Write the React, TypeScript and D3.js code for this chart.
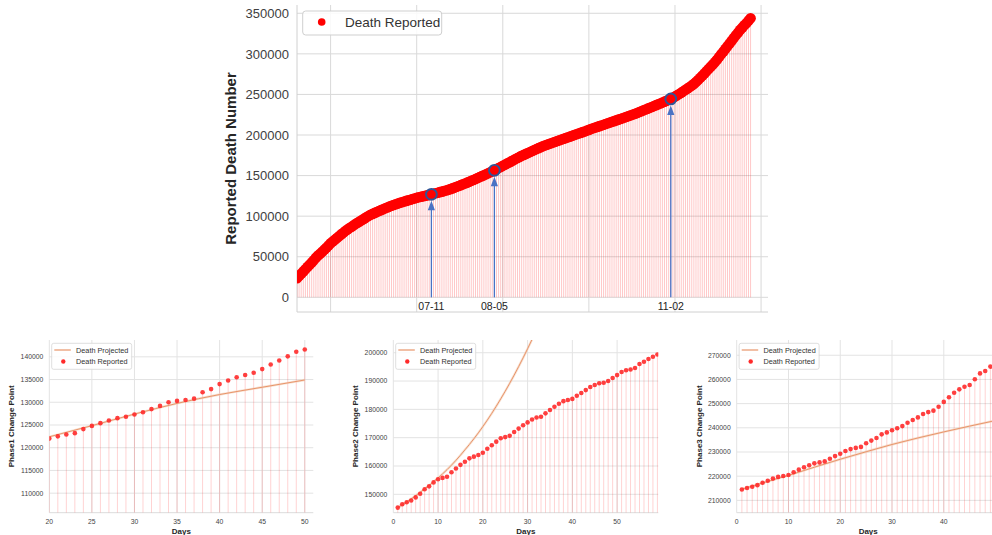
import React from "react";
import * as d3 from "d3";

const FONT = '"Liberation Sans", Arial, sans-serif';

// ---- top chart: cumulative reported deaths, one value per day ----
const deathReported = [
  23400, 26300, 29000, 31900, 34600, 37500, 40100, 43000, 45700, 48900,
  51400, 53600, 56200, 58700, 61100, 63800, 66500, 68700, 71000, 73000,
  75200, 77500, 79400, 81600, 83500, 85400, 87000, 88800, 90500, 92100,
  93700, 95400, 96900, 98600, 100200, 101600, 102800, 104000, 105000, 106300,
  107400, 108600, 109800, 110700, 111800, 112900, 113800, 114600, 115500, 116400,
  117100, 118000, 118800, 119500, 120300, 121100, 121800, 122600, 123300, 123900,
  124400, 125000, 125600, 126300, 126900, 127600, 128200, 128900, 129600, 130200,
  130900, 131600, 132400, 133300, 134200, 135200, 136100, 137200, 138200, 139300,
  140200, 141300, 142400, 143500, 144600, 145800, 146900, 148100, 149300, 150500,
  151700, 152900, 154100, 155300, 156500, 157900, 159300, 160600, 162000, 163400,
  164800, 166200, 167500, 168900, 170300, 171600, 173000, 174300, 175500, 176700,
  177900, 179100, 180200, 181400, 182600, 183800, 184900, 186000, 187000, 188000,
  189000, 189900, 190800, 191700, 192600, 193500, 194400, 195300, 196200, 197100,
  198000, 199000, 199900, 200800, 201700, 202600, 203500, 204400, 205400, 206300,
  207400, 208300, 209100, 210000, 210900, 211800, 212700, 213600, 214400, 215300,
  216200, 217100, 218000, 218900, 219800, 220700, 221600, 222500, 223400, 224300,
  225300, 226200, 227200, 228300, 229300, 230400, 231400, 232500, 233500, 234600,
  235700, 236800, 237800, 238900, 240000, 241100, 242100, 243300, 244400, 245900,
  247400, 249000, 250600, 252200, 254000, 255700, 257400, 259200, 261000, 263000,
  265200, 267800, 270400, 273100, 275800, 278600, 281300, 284100, 286900, 289800,
  292700, 296000, 299400, 302700, 306100, 309400, 312800, 316100, 319400, 322800,
  326100, 329500, 332300, 335200, 337800, 340900, 343800,
];
const changeIdx = [64, 94, 178];
const changeLabels = ["07-11", "08-05", "11-02"];
const topYTicks = [0, 50000, 100000, 150000, 200000, 250000, 300000, 350000];
const topGridIdx = [16, 57, 98, 139, 180, 221];

// ---- phase 1 ----
const p1Days = d3.range(20, 51);
const p1Reported = [
  122000, 122500, 122900, 123200, 124100, 124800, 125400, 126000, 126500, 126800,
  127300, 127800, 128500, 129200, 130000, 130300, 130500, 130800, 132200, 132900,
  134000, 134800, 135500, 136000, 136500, 137300, 138300, 139200, 140100, 141100,
  141600,
];
const p1ProjDays = [20, 25, 30, 35, 40, 45, 50];
const p1Projected = [122400, 124850, 127400, 129750, 131700, 133300, 134900];
const p1XTicks = [20, 25, 30, 35, 40, 45, 50];
const p1YTicks = [110000, 115000, 120000, 125000, 130000, 135000, 140000];

// ---- phase 2 ----
const p2Days = d3.range(1, 60);
const p2Reported = [
  145300, 146500, 147200, 147800, 148900, 150200, 151800, 152800, 154200, 155300,
  155800, 156200, 157800, 159100, 160400, 161500, 162700, 163300, 163900, 164700,
  166100, 167300, 168600, 169800, 170200, 170700, 172000, 173200, 174400, 175400,
  176400, 177100, 177400, 178600, 179800, 180900, 182000, 182900, 183300, 183700,
  184800, 185800, 186800, 187900, 188600, 189200, 189400, 190000, 191100, 192100,
  193200, 193800, 194100, 194600, 196000, 196800, 197800, 198600, 199400,
];
const p2ProjDays = d3.range(1, 33);
const p2Projected = [
  145300, 146300, 147300, 148400, 149500, 150700, 151900, 153100, 154400, 155800,
  157200, 158700, 160300, 162000, 163800, 165700, 167600, 169600, 171700, 173900,
  176200, 178600, 181100, 183700, 186400, 189200, 192100, 195100, 198200, 201400,
  204700, 208100,
];
const p2XTicks = [0, 10, 20, 30, 40, 50];
const p2YTicks = [150000, 160000, 170000, 180000, 190000, 200000];

// ---- phase 3 ----
const p3Days = d3.range(1, 50);
const p3Reported = [
  214500, 215100, 215600, 216300, 217300, 218100, 219000, 219700, 220100, 220500,
  221600, 222700, 223700, 224500, 225300, 225700, 226100, 227200, 228300, 229300,
  230400, 231200, 231700, 232100, 233600, 234700, 235800, 237300, 238100, 239000,
  239800, 240700, 242100, 243200, 244300, 245700, 246500, 247100, 248700, 250700,
  252600, 254500, 255900, 257000, 257700, 260100, 262500, 263500, 265300,
];
const p3ProjDays = [1, 5, 10, 15, 20, 25, 30, 35, 40, 45, 50];
const p3Projected = [214600, 217200, 220300, 223700, 227000, 230100, 233100, 235800, 238300, 240700, 243000];
const p3XTicks = [0, 10, 20, 30, 40];
const p3YTicks = [210000, 220000, 230000, 240000, 250000, 260000, 270000];

const RED = "#ff0000";
const PROJ = "#e8946a";

function TopChart() {
  const left = 297, right = 768, top = 5, bottom = 312;
  const x = d3.scaleLinear().domain([0, 224.3]).range([left, right]);
  const y = d3.scaleLinear().domain([-18100, 360200]).range([bottom, top]);

  return (
    <g>
      <defs>
        <clipPath id="topclip">
          <rect x={left} y={top - 10} width={right - left} height={bottom - top + 10} />
        </clipPath>
      </defs>
      {topYTicks.map((t) => (
        <g key={t}>
          <line x1={left} x2={right} y1={y(t)} y2={y(t)} stroke="#d9d9d9" strokeWidth={1} />
          <text x={left - 8} y={y(t)} dy="0.36em" textAnchor="end" fontSize={13} fill="#404040" fontFamily={FONT}>
            {t}
          </text>
        </g>
      ))}
      {topGridIdx.map((t) => (
        <line key={t} x1={x(t)} x2={x(t)} y1={top} y2={bottom} stroke="#d9d9d9" strokeWidth={1} />
      ))}
      <line x1={left} x2={left} y1={top} y2={bottom} stroke="#d0d0d0" />
      <line x1={left} x2={right} y1={bottom} y2={bottom} stroke="#d0d0d0" />

      <g clipPath="url(#topclip)">
        {deathReported.map((v, i) => (
          <line key={"s" + i} x1={x(i)} x2={x(i)} y1={y(0)} y2={y(v)} stroke="#ff0000" strokeOpacity={0.22} strokeWidth={1} />
        ))}
        {deathReported.map((v, i) => (
          <circle key={"p" + i} cx={x(i)} cy={y(v)} r={5.3} fill={RED} />
        ))}
      </g>

      {changeIdx.map((idx, k) => {
        const cx = x(idx);
        const cy = y(deathReported[idx]);
        const tip = cy + 6.5;
        return (
          <g key={idx}>
            <line x1={cx} x2={cx} y1={y(0)} y2={tip + 8} stroke="#4a72c4" strokeWidth={1.3} />
            <path d={`M${cx},${tip} L${cx - 3.6},${tip + 9.5} L${cx + 3.6},${tip + 9.5} Z`} fill="#4a72c4" />
            <circle cx={cx} cy={cy} r={5.4} fill="none" stroke="#2f5597" strokeWidth={1.9} />
            <text x={cx} y={310} textAnchor="middle" fontSize={10.5} fill="#222" fontFamily={FONT}>
              {changeLabels[k]}
            </text>
          </g>
        );
      })}

      <rect x={302.7} y={11} width={139} height={24} rx={3} fill="#fff" fillOpacity={0.85} stroke="#cfcfcf" />
      <circle cx={321.7} cy={22} r={3.8} fill={RED} />
      <text x={345} y={22} dy="0.36em" fontSize={13.5} fill="#333" fontFamily={FONT}>
        Death Reported
      </text>

      <text
        transform={`translate(236,${(top + bottom) / 2}) rotate(-90)`}
        textAnchor="middle"
        fontSize={15}
        fontWeight="bold"
        fill="#262626"
        fontFamily={FONT}
      >
        Reported Death Number
      </text>
    </g>
  );
}

type PhaseProps = {
  id: string;
  left: number;
  width: number;
  xDomain: [number, number];
  yDomain: [number, number];
  xTicks: number[];
  yTicks: number[];
  days: number[];
  reported: number[];
  projDays: number[];
  projected: number[];
  yLabel: string;
};

function PhaseChart(p: PhaseProps) {
  const top = 340, bottom = 512.7;
  const right = p.left + p.width;
  const x = d3.scaleLinear().domain(p.xDomain).range([p.left, right]);
  const y = d3.scaleLinear().domain(p.yDomain).range([bottom, top]);
  const line = d3
    .line<number>()
    .x((_, i) => x(p.projDays[i]))
    .y((d) => y(d))
    .curve(d3.curveMonotoneX);
  const projPath = line(p.projected) || "";

  return (
    <g>
      <defs>
        <clipPath id={p.id}>
          <rect x={p.left} y={top} width={p.width} height={bottom - top} />
        </clipPath>
      </defs>
      {p.yTicks.map((t) => (
        <g key={t}>
          <line x1={p.left} x2={right} y1={y(t)} y2={y(t)} stroke="#e3e3e3" />
          <text x={p.left - 6} y={y(t)} dy="0.36em" textAnchor="end" fontSize={6.8} fill="#444" fontFamily={FONT}>
            {t}
          </text>
        </g>
      ))}
      {p.xTicks.map((t) => (
        <g key={t}>
          <line x1={x(t)} x2={x(t)} y1={top} y2={bottom} stroke="#e3e3e3" />
          <text x={x(t)} y={521.7} dy="0.36em" textAnchor="middle" fontSize={6.8} fill="#444" fontFamily={FONT}>
            {t}
          </text>
        </g>
      ))}
      <line x1={p.left} x2={right} y1={bottom} y2={bottom} stroke="#dcdcdc" />

      <g clipPath={`url(#${p.id})`}>
        {p.reported.map((v, i) => (
          <line key={"s" + i} x1={x(p.days[i])} x2={x(p.days[i])} y1={bottom} y2={y(v)} stroke="#ff0000" strokeOpacity={0.2} strokeWidth={0.9} />
        ))}
        <path d={projPath} fill="none" stroke="#f1cdb4" strokeOpacity={0.6} strokeWidth={2.4} />
        <path d={projPath} fill="none" stroke={PROJ} strokeWidth={1} />
        {p.reported.map((v, i) => (
          <circle key={"p" + i} cx={x(p.days[i])} cy={y(v)} r={2.3} fill="#ff2a2a" fillOpacity={0.9} />
        ))}
      </g>

      <rect x={p.left + 2.4} y={343.3} width={80} height={26} rx={2} fill="#fff" fillOpacity={0.85} stroke="#d6d6d6" strokeWidth={0.8} />
      <line x1={p.left + 5} x2={p.left + 21.5} y1={350} y2={350} stroke={PROJ} strokeWidth={1.2} />
      <text x={p.left + 26.7} y={350} dy="0.36em" fontSize={7.3} fill="#333" fontFamily={FONT}>
        Death Projected
      </text>
      <circle cx={p.left + 14} cy={361.5} r={2.2} fill="#ff2a2a" />
      <text x={p.left + 26.7} y={361.5} dy="0.36em" fontSize={7.3} fill="#333" fontFamily={FONT}>
        Death Reported
      </text>

      <text x={(p.left + right) / 2} y={531} dy="0.36em" textAnchor="middle" fontSize={8} fontWeight="bold" fill="#262626" fontFamily={FONT}>
        Days
      </text>
      <text
        transform={`translate(${p.left - 38},${(top + bottom) / 2}) rotate(-90)`}
        dy="0.36em"
        textAnchor="middle"
        fontSize={8}
        fontWeight="bold"
        fill="#262626"
        fontFamily={FONT}
      >
        {p.yLabel}
      </text>
    </g>
  );
}

export default function App() {
  return (
    <svg
      width={992}
      height={535}
      style={{ position: "absolute", left: 0, top: 0, background: "#fff" }}
      fontFamily={FONT}
    >
      <TopChart />
      <PhaseChart
        id="c1"
        left={49.3}
        width={264}
        xDomain={[20, 51]}
        yDomain={[105700, 143700]}
        xTicks={p1XTicks}
        yTicks={p1YTicks}
        days={p1Days}
        reported={p1Reported}
        projDays={p1ProjDays}
        projected={p1Projected}
        yLabel="Phase1 Change Point"
      />
      <PhaseChart
        id="c2"
        left={393.3}
        width={265}
        xDomain={[0, 59.2]}
        yDomain={[143500, 204500]}
        xTicks={p2XTicks}
        yTicks={p2YTicks}
        days={p2Days}
        reported={p2Reported}
        projDays={p2ProjDays}
        projected={p2Projected}
        yLabel="Phase2 Change Point"
      />
      <PhaseChart
        id="c3"
        left={736.7}
        width={263}
        xDomain={[0, 50.8]}
        yDomain={[204900, 276300]}
        xTicks={p3XTicks}
        yTicks={p3YTicks}
        days={p3Days}
        reported={p3Reported}
        projDays={p3ProjDays}
        projected={p3Projected}
        yLabel="Phase3 Change Point"
      />
    </svg>
  );
}
